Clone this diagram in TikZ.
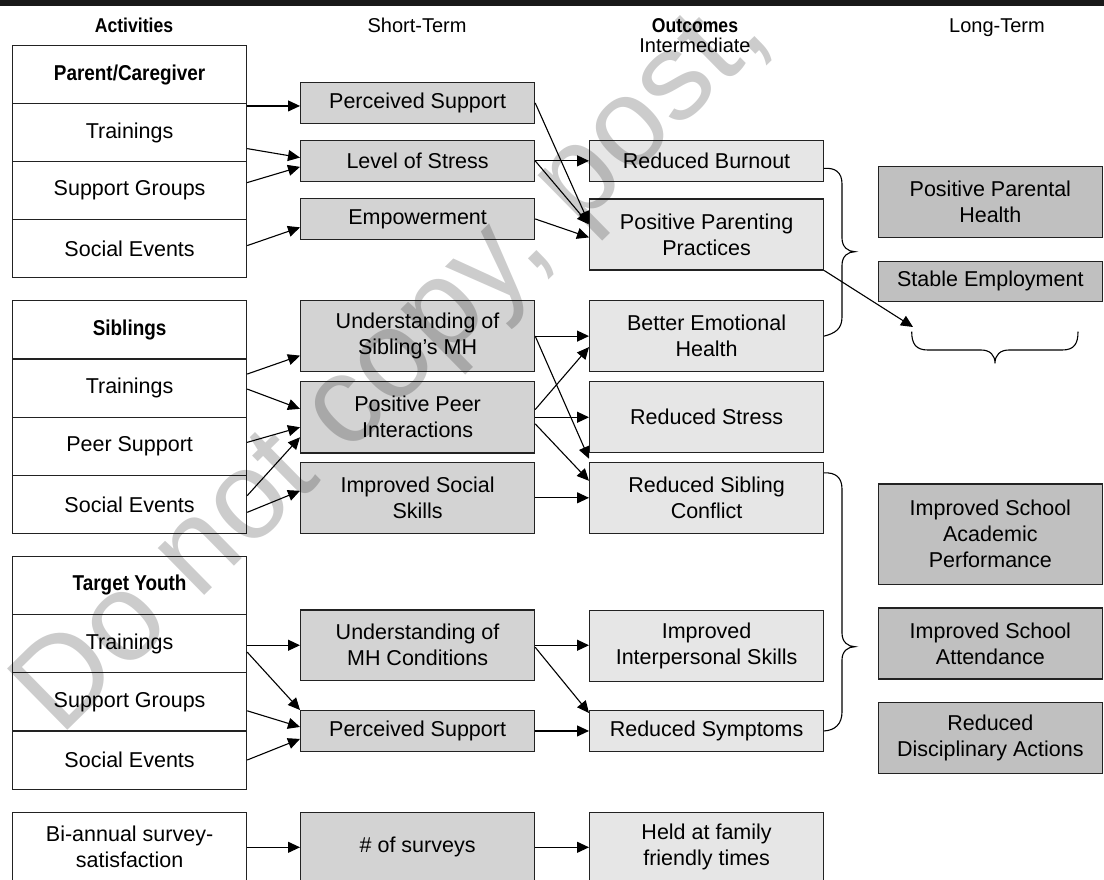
\documentclass[tikz,border=0pt]{standalone}
\usepackage{fontspec}
\setmainfont{Liberation Sans}
\newfontfamily\bfcond{Liberation Sans}[FakeStretch=0.88]
\usetikzlibrary{arrows.meta,calc}
\definecolor{stc}{HTML}{D3D3D3}
\definecolor{imc}{HTML}{E6E6E6}
\definecolor{ltc}{HTML}{C0C0C0}
\definecolor{edge}{HTML}{222222}
\begin{document}
\begin{tikzpicture}[x=1pt,y=-1pt,font=\fontsize{21.5}{26}\selectfont,
  bx/.style={draw=edge,line width=1.2pt,minimum width=234pt,inner sep=0pt,align=center,anchor=north west},
  act/.style={bx,fill=white},
  st/.style={bx,fill=stc},
  im/.style={bx,fill=imc},
  lt/.style={bx,fill=ltc,minimum width=224.5pt},
  hdr/.style={anchor=base,inner sep=0pt,font=\fontsize{20}{24}\selectfont},
  arr/.style={-{Triangle[length=12pt,width=11pt]},line width=1.1pt,draw=black},
  brc/.style={line width=1.1pt,draw=black}]
\useasboundingbox (0,0) rectangle (1104,879);
\fill[white] (0,0) rectangle (1104,879);
\clip (0,0) rectangle (1104,879);
\fill[black!90] (0,0) rectangle (1104,6);

% headers
\node[hdr] (hAct) at (134,32) {\bfcond\bfseries Activities};
\node[hdr] (hST) at (417,32) {Short-Term};
\node[hdr] (hOut) at (695,32) {\bfcond\bfseries Outcomes};
\node[hdr] (hInt) at (695,52) {Intermediate};
\node[hdr] (hLT) at (997,32) {Long-Term};

% Parent / caregiver
\node[act,minimum height=58pt] (p0) at (12,45) {\bfcond\bfseries Parent/Caregiver};
\node[act,minimum height=58pt] (p1) at (12,103) {Trainings};
\node[act,minimum height=58pt] (p2) at (12,161) {Support Groups};
\node[act,minimum height=58pt] (p3) at (12,219) {Social Events};
% Siblings
\node[act,minimum height=58.3pt] (s0) at (12,300) {\bfcond\bfseries Siblings};
\node[act,minimum height=58.3pt] (s1) at (12,358.3) {Trainings};
\node[act,minimum height=58.3pt] (s2) at (12,416.6) {Peer Support};
\node[act,minimum height=58.3pt] (s3) at (12,474.9) {Social Events};
% Target youth
\node[act,minimum height=58.2pt] (t0) at (12,555.7) {\bfcond\bfseries Target Youth};
\node[act,minimum height=58.2pt] (t1) at (12,613.9) {Trainings};
\node[act,minimum height=58.2pt] (t2) at (12,672.1) {Support Groups};
\node[act,minimum height=58.2pt] (t3) at (12,730.3) {Social Events};
% survey
\node[act,minimum height=70pt] (bi) at (12,811.7) {Bi-annual survey-\\satisfaction};

% short-term
\node[st,minimum height=40.7pt] (PS1) at (300,82) {Perceived Support};
\node[st,minimum height=40.5pt] (LoS) at (300,140) {Level of Stress};
\node[st,minimum height=41.3pt] (Emp) at (300,197.7) {Empowerment};
\node[st,minimum height=71pt] (USMH) at (300,300) {Understanding of\\Sibling's MH};
\node[st,minimum height=71.3pt] (PPI) at (300,381) {Positive Peer\\Interactions};
\node[st,minimum height=71pt] (ISS) at (300,461.7) {Improved Social\\Skills};
\node[st,minimum height=70.7pt] (UMHC) at (300,609.3) {Understanding of\\MH Conditions};
\node[st,minimum height=40.7pt] (PS2) at (300,710) {Perceived Support};
\node[st,minimum height=70pt] (Surv) at (300,811.7) {\# of surveys};

% intermediate
\node[im,minimum height=41pt] (RB) at (589,140) {Reduced Burnout};
\node[im,minimum height=71pt] (PPP) at (589,198.3) {Positive Parenting\\Practices};
\node[im,minimum height=71pt] (BEH) at (589,300) {Better Emotional\\Health};
\node[im,minimum height=71pt] (RS) at (589,381) {Reduced Stress};
\node[im,minimum height=71pt] (RSC) at (589,461.7) {Reduced Sibling\\Conflict};
\node[im,minimum height=70.7pt] (IIS) at (589,610) {Improved\\Interpersonal Skills};
\node[im,minimum height=40.7pt] (RSym) at (589,710) {Reduced Symptoms};
\node[im,minimum height=70pt] (Held) at (589,811.7) {Held at family\\friendly times};

% long-term
\node[lt,minimum height=71pt] (PPH) at (877.5,165.7) {Positive Parental\\Health};
\node[lt,minimum height=40.5pt] (SE) at (877.5,260.5) {Stable Employment};
\node[lt,minimum height=100.7pt] (ISAP) at (877.5,483.3) {Improved School\\Academic\\Performance};
\node[lt,minimum height=71pt] (ISA) at (877.5,607.3) {Improved School\\Attendance};
\node[lt,minimum height=71pt] (RDA) at (877.5,701.7) {Reduced\\Disciplinary Actions};

% parent arrows
\coordinate (ps1in) at ($(PS1.west)+(0,3)$);
\draw[arr] (p1.east |- ps1in) -- (ps1in);
\draw[arr] ($(p1.east)+(0,16)$) -- ($(LoS.west)+(0,-3.3)$);
\draw[arr] ($(p2.east)+(0,-8)$) -- ($(LoS.west)+(0,6)$);
\draw[arr] ($(p3.east)+(0,-3)$) -- ($(Emp.west)+(0,8.4)$);
\draw[arr] (PS1.east) -- ($(PPP.west)+(0,-11)$);
\draw[arr] (LoS.east) -- (LoS.east -| RB.west);
\draw[arr] (LoS.east) -- ($(PPP.west)+(0,-10)$);
\draw[arr] (Emp.east) -- ($(PPP.west)+(0,3)$);

% siblings arrows
\draw[arr] ($(s1.east)+(0,-14)$) -- ($(USMH.west)+(0,19.5)$);
\draw[arr] ($(s1.east)+(0,1)$) -- ($(PPI.west)+(0,-8.4)$);
\draw[arr] ($(s2.east)+(0,-4)$) -- ($(PPI.west)+(0,10)$);
\draw[arr] ($(s3.east)+(0,-9)$) -- ($(PPI.west)+(0,20)$);
\draw[arr] ($(s3.east)+(0,7.7)$) -- ($(ISS.west)+(0,-7)$);
\draw[arr] (USMH.east) -- (USMH.east -| BEH.west);
\draw[arr] ($(PPI.east)+(0,-7.7)$) -- ($(BEH.west)+(0,11)$);
\draw[arr] (USMH.east) -- ($(RSC.north west)+(0,-3)$);
\draw[arr] (PPI.east) -- (PPI.east -| RS.west);
\draw[arr] ($(PPI.east)+(0,6.6)$) -- ($(RSC.west)+(0,-17)$);
\draw[arr] (ISS.east) -- (ISS.east -| RSC.west);

% youth arrows
\draw[arr] (t1.east |- UMHC.west) -- (UMHC.west);
\draw[arr] ($(t1.east)+(0,8.5)$) -- (PS2.north west);
\draw[arr] ($(t2.east)+(0,9)$) -- ($(PS2.west)+(0,-4)$);
\draw[arr] (t3.east) -- ($(PS2.west)+(0,8)$);
\draw[arr] (UMHC.east) -- (UMHC.east -| IIS.west);
\draw[arr] ($(UMHC.east)+(0,2)$) -- ($(RSym.north west)+(0,3)$);
\draw[arr] (PS2.east) -- (PS2.east -| RSym.west);

% survey arrows
\draw[arr] (bi.east) -- (bi.east -| Surv.west);
\draw[arr] (Surv.east) -- (Surv.east -| Held.west);

% braces
\coordinate (b1a) at ($(RB.east)+(0,7.2)$);
\draw[brc] (b1a) .. controls (835,167.7) and (842,172) .. (842,184) -- (842,238)
  .. controls (842,247) and (848,251.7) .. (855,251.7)
  .. controls (848,251.7) and (842,256) .. (842,265.4) -- (842,317)
  .. controls (842,329) and (835,333.3) .. (BEH.east);
\coordinate (b2a) at ($(RSC.east)+(0,-24.9)$);
\draw[brc] (b2a) .. controls (835,472.3) and (842,477) .. (842,489) -- (842,633)
  .. controls (842,642) and (848,646.7) .. (855,646.7)
  .. controls (848,646.7) and (842,651) .. (842,660) -- (842,712)
  .. controls (842,724) and (835,730.3) .. (RSym.east);
\coordinate (b3a) at (911.7,331.7);
\coordinate (b3z) at (1078,331.7);
\draw[brc] (b3a) .. controls (911.7,344) and (916,350) .. (928,350) -- (981,350)
  .. controls (990,350) and (995,355) .. (995,363.3)
  .. controls (995,355) and (1000,350) .. (1009,350) -- (1062,350)
  .. controls (1074,350) and (1078,344) .. (b3z);
\coordinate (ltip) at (913,327);
\draw[arr] (PPP.south east) -- (ltip);

% watermark
\node[anchor=base west,rotate=44.5,inner sep=0pt,text=black,text opacity=0.2,
  font=\fontsize{125}{125}\selectfont] (wm) at (60,738) {Do not copy, post,};
\end{tikzpicture}
\end{document}
